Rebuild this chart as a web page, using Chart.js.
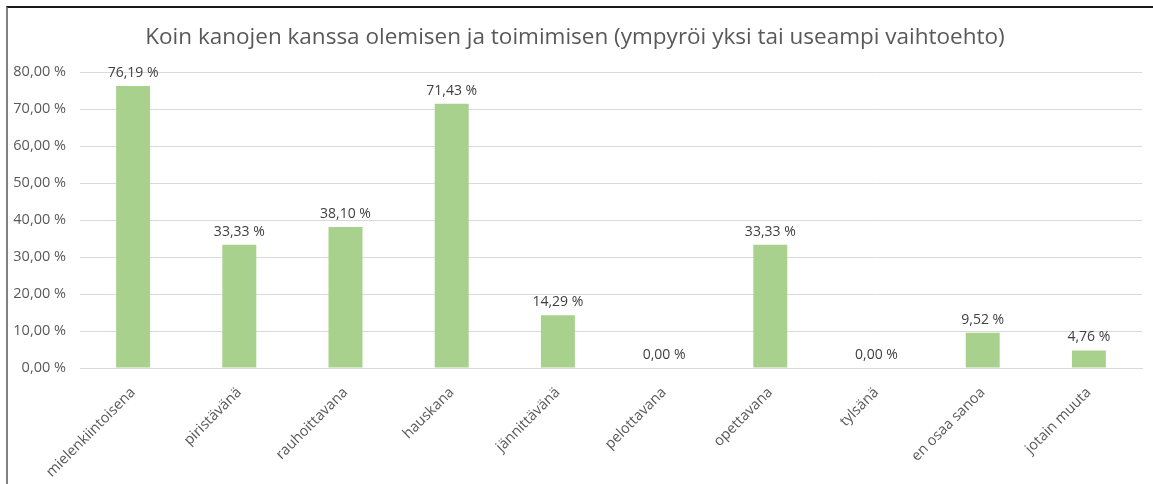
<!DOCTYPE html>
<html>
<head>
<meta charset="utf-8">
<script src="https://cdn.jsdelivr.net/npm/chart.js@4"></script>
<style>
    html, body { margin: 0; padding: 0; background: #fff; }
    #frame { position: absolute; left: 6px; top: 6px; width: 1147px; height: 478px; border-top: 2px solid #1a1a1a; border-left: 2px solid #808080; box-sizing: border-box; }
    #wrap { position: absolute; left: 0; top: 0; width: 1153px; height: 484px; }
</style>
</head>
<body>
<div id="frame"></div>
<div id="wrap"><canvas id="chart"></canvas></div>
<script>
const categories = ["mielenkiintoisena", "piristävänä", "rauhoittavana", "hauskana", "jännittävänä", "pelottavana", "opettavana", "tylsänä", "en osaa sanoa", "jotain muuta"];
const shares = [76.19, 33.33, 38.10, 71.43, 14.29, 0, 33.33, 0, 9.52, 4.76];
const yTicks = [0, 10, 20, 30, 40, 50, 60, 70, 80];

const textColor = "#595959";
const fontFamily = "'Open Sans', sans-serif";

function formatPercent(value) {
    return Number(value).toLocaleString("fi-FI", { minimumFractionDigits: 2, maximumFractionDigits: 2 }).replace(/\u00a0|\s/g, "") + " %";
}

const valueLabels = {
    id: "valueLabels",
    afterDatasetsDraw(chart) {
        const { ctx } = chart;
        const meta = chart.getDatasetMeta(0);
        ctx.save();
        ctx.font = `14px ${fontFamily}`;
        ctx.fillStyle = "#404040";
        ctx.textAlign = "center";
        ctx.textBaseline = "bottom";
        meta.data.forEach((bar, i) => {
            ctx.fillText(formatPercent(shares[i]), bar.x, bar.y - 6);
        });
        ctx.restore();
    }
};

new Chart(document.querySelector("#chart"), {
    type: "bar",
    data: {
        labels: categories,
        datasets: [{ data: shares, backgroundColor: "#a9d18e", borderWidth: 0, barPercentage: 0.64, categoryPercentage: 0.5 }]
    },
    options: {
        responsive: true,
        maintainAspectRatio: false,
        animation: false,
        layout: { padding: { top: 6, left: 8, right: 11, bottom: 0 } },
        plugins: {
            legend: { display: false },
            tooltip: { enabled: false },
            title: {
                display: true,
                text: "Koin kanojen kanssa olemisen ja toimimisen (ympyröi yksi tai useampi vaihtoehto)",
                color: textColor,
                font: { family: fontFamily, size: 22.5, weight: "normal" },
                padding: { top: 18, bottom: 21 }
            }
        },
        scales: {
            y: {
                min: 0,
                max: 80,
                afterBuildTicks: (scale) => { scale.ticks = yTicks.map((value) => ({ value })); },
                afterFit: (scale) => { scale.width = 72; },
                border: { display: false },
                grid: { color: "#d9d9d9", drawTicks: false },
                ticks: { color: textColor, padding: 14, font: { family: fontFamily, size: 14.5 }, callback: (value) => formatPercent(value) }
            },
            x: {
                afterFit: (scale) => { scale.height = 116; },
                border: { color: "#d9d9d9" },
                grid: { display: false },
                ticks: { color: textColor, padding: 8, minRotation: 45, maxRotation: 45, font: { family: fontFamily, size: 14.5 } }
            }
        }
    },
    plugins: [valueLabels]
});
</script>
</body>
</html>
